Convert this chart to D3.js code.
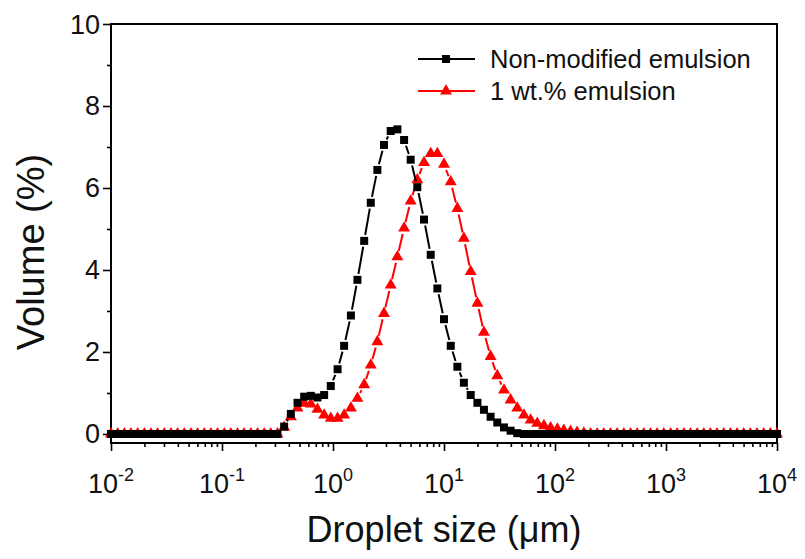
<!DOCTYPE html>
<html>
<head>
<meta charset="utf-8">
<script src="https://cdn.jsdelivr.net/npm/d3@7"></script>
<style>
  body { margin: 0; background: #fff; }
  text { font-family: "Liberation Sans", Arial, sans-serif; fill: #111; }
</style>
</head>
<body>
<div id="chart"></div>
<script>
// droplet size bins (um)
const sizes = [
  0.0100, 0.0115, 0.0132, 0.0151, 0.0174, 0.0200, 0.0229, 0.0263, 0.0302, 0.0347,
  0.0398, 0.0457, 0.0525, 0.0603, 0.0692, 0.0794, 0.0912, 0.105, 0.120, 0.138,
  0.158, 0.182, 0.209, 0.240, 0.275, 0.316, 0.363, 0.417, 0.479, 0.550,
  0.631, 0.724, 0.832, 0.955, 1.10, 1.26, 1.45, 1.66, 1.91, 2.19,
  2.51, 2.88, 3.31, 3.80, 4.37, 5.01, 5.75, 6.61, 7.59, 8.71,
  10.0, 11.5, 13.2, 15.1, 17.4, 20.0, 22.9, 26.3, 30.2, 34.7,
  39.8, 45.7, 52.5, 60.3, 69.2, 79.4, 91.2, 105, 120, 138,
  158, 182, 209, 240, 275, 316, 363, 417, 479, 550,
  631, 724, 832, 955, 1100, 1260, 1450, 1660, 1910, 2190,
  2510, 2880, 3310, 3800, 4370, 5010, 5750, 6610, 7590, 8710,
  10000
];

// volume (%) - non-modified emulsion
const nonModified = [
  0, 0, 0, 0, 0, 0, 0, 0, 0, 0,
  0, 0, 0, 0, 0, 0, 0, 0, 0, 0,
  0, 0, 0, 0, 0, 0, 0.18, 0.49, 0.76, 0.91,
  0.93, 0.89, 0.95, 1.17, 1.58, 2.15, 2.89, 3.76, 4.71, 5.64,
  6.44, 7.05, 7.39, 7.43, 7.17, 6.69, 6.02, 5.23, 4.37, 3.55,
  2.80, 2.15, 1.64, 1.25, 0.95, 0.76, 0.59, 0.42, 0.28, 0.16,
  0.08, 0.02, 0, 0, 0, 0, 0, 0, 0, 0,
  0, 0, 0, 0, 0, 0, 0, 0, 0, 0,
  0, 0, 0, 0, 0, 0, 0, 0, 0, 0,
  0, 0, 0, 0, 0, 0, 0, 0, 0, 0,
  0
];

// volume (%) - 1 wt.% emulsion
const oneWt = [
  0, 0, 0, 0, 0, 0, 0, 0, 0, 0,
  0, 0, 0, 0, 0, 0, 0, 0, 0, 0,
  0, 0, 0, 0, 0, 0, 0.16, 0.42, 0.63, 0.75,
  0.73, 0.60, 0.46, 0.38, 0.38, 0.46, 0.63, 0.87, 1.20, 1.68,
  2.25, 2.94, 3.63, 4.32, 5.02, 5.68, 6.20, 6.62, 6.84, 6.84,
  6.58, 6.15, 5.50, 4.77, 3.96, 3.19, 2.48, 1.89, 1.42, 1.07,
  0.83, 0.63, 0.46, 0.34, 0.26, 0.20, 0.15, 0.12, 0.09, 0.06,
  0.04, 0.02, 0, 0, 0, 0, 0, 0, 0, 0,
  0, 0, 0, 0, 0, 0, 0, 0, 0, 0,
  0, 0, 0, 0, 0, 0, 0, 0, 0, 0,
  0
];

const seriesNames = ["Non-modified emulsion", "1 wt.% emulsion"];
const xMajorExps = [-2, -1, 0, 1, 2, 3, 4];
const yMajor = [0, 2, 4, 6, 8, 10];
const yMinor = [1, 3, 5, 7, 9];

const width = 805, height = 559;
const plotL = 111, plotR = 777, plotT = 24, plotB = 443;
const sqSize = 64, triSize = 62;

const svg = d3.select("#chart").append("svg")
  .attr("width", width)
  .attr("height", height);

const x = d3.scaleLog().domain([0.01, 10000]).range([plotL, plotR]);
const y = d3.scaleLinear().domain([-0.22, 10]).range([plotB, plotT]);

// frame
svg.append("rect")
  .attr("x", plotL).attr("y", plotT)
  .attr("width", plotR - plotL).attr("height", plotB - plotT)
  .attr("fill", "none").attr("stroke", "#000").attr("stroke-width", 2);

// x axis ticks
const isMajor = v => Math.abs(Math.log10(v) - Math.round(Math.log10(v))) < 1e-6;
const xAxis = d3.axisBottom(x)
  .tickValues(x.ticks())
  .tickFormat("")
  .tickSizeOuter(0);
const gx = svg.append("g").attr("transform", `translate(0,${plotB})`).call(xAxis);
gx.select(".domain").remove();
gx.selectAll(".tick line")
  .attr("stroke", "#000").attr("stroke-width", 1.6)
  .attr("y2", d => isMajor(d) ? 8 : 4);

// x tick labels 10^n
const xl = svg.append("g").selectAll("text")
  .data(xMajorExps).join("text")
  .attr("x", d => x(Math.pow(10, d)))
  .attr("y", plotB + 50)
  .attr("text-anchor", "middle")
  .style("font-size", "27px");
xl.append("tspan").text("10");
xl.append("tspan").attr("dy", -12).style("font-size", "18px").text(d => String(d));

// y axis ticks
const yAxis = d3.axisLeft(y)
  .tickValues(yMajor.concat(yMinor))
  .tickFormat("")
  .tickSizeOuter(0);
const gy = svg.append("g").attr("transform", `translate(${plotL},0)`).call(yAxis);
gy.select(".domain").remove();
gy.selectAll(".tick line")
  .attr("stroke", "#000").attr("stroke-width", 1.6)
  .attr("x2", d => yMajor.includes(d) ? -8 : -4);

svg.append("g").selectAll("text")
  .data(yMajor).join("text")
  .attr("x", plotL - 11)
  .attr("y", d => y(d) + 9.5)
  .attr("text-anchor", "end")
  .style("font-size", "27px")
  .text(d => d);

// axis titles
svg.append("text")
  .attr("x", (plotL + plotR) / 2)
  .attr("y", 542)
  .attr("text-anchor", "middle")
  .style("font-size", "36px")
  .text("Droplet size (\u03bcm)");

svg.append("text")
  .attr("transform", "translate(44,252) rotate(-90)")
  .attr("text-anchor", "middle")
  .style("font-size", "38px")
  .text("Volume (%)");

// lines with a gap around each symbol
const gap = 6;
function drawSeries(vals, color, symbol, size) {
  const pts = vals.map((v, i) => [x(sizes[i]), y(v)]);
  const segs = [];
  for (let i = 0; i < pts.length - 1; i++) {
    const [x1, y1] = pts[i], [x2, y2] = pts[i + 1];
    const len = Math.hypot(x2 - x1, y2 - y1);
    if (len > 2 * gap + 1) {
      const ux = (x2 - x1) / len, uy = (y2 - y1) / len;
      segs.push([x1 + ux * gap, y1 + uy * gap, x2 - ux * gap, y2 - uy * gap]);
    }
  }
  const g = svg.append("g");
  g.selectAll("line").data(segs).join("line")
    .attr("x1", d => d[0]).attr("y1", d => d[1])
    .attr("x2", d => d[2]).attr("y2", d => d[3])
    .attr("stroke", color).attr("stroke-width", 2);
  g.selectAll("path").data(pts).join("path")
    .attr("transform", d => `translate(${d[0]},${d[1]})`)
    .attr("d", d3.symbol().type(symbol).size(size))
    .attr("fill", color);
}

drawSeries(oneWt, "#ff0000", d3.symbolTriangle, triSize);
drawSeries(nonModified, "#000", d3.symbolSquare, sqSize);

// legend
const legend = [
  { name: seriesNames[0], color: "#000", symbol: d3.symbolSquare, size: sqSize, y: 59 },
  { name: seriesNames[1], color: "#ff0000", symbol: d3.symbolTriangle, size: triSize, y: 91 }
];
const lg = svg.append("g").selectAll("g").data(legend).join("g");
lg.append("line")
  .attr("x1", 418).attr("x2", 475)
  .attr("y1", d => d.y).attr("y2", d => d.y)
  .attr("stroke", d => d.color).attr("stroke-width", 2);
lg.append("path")
  .attr("transform", d => `translate(446,${d.y})`)
  .attr("d", d => d3.symbol().type(d.symbol).size(d.size)())
  .attr("fill", d => d.color);
lg.append("text")
  .attr("x", 490)
  .attr("y", d => d.y + 8.5)
  .style("font-size", "25.5px")
  .text(d => d.name);
</script>
</body>
</html>
